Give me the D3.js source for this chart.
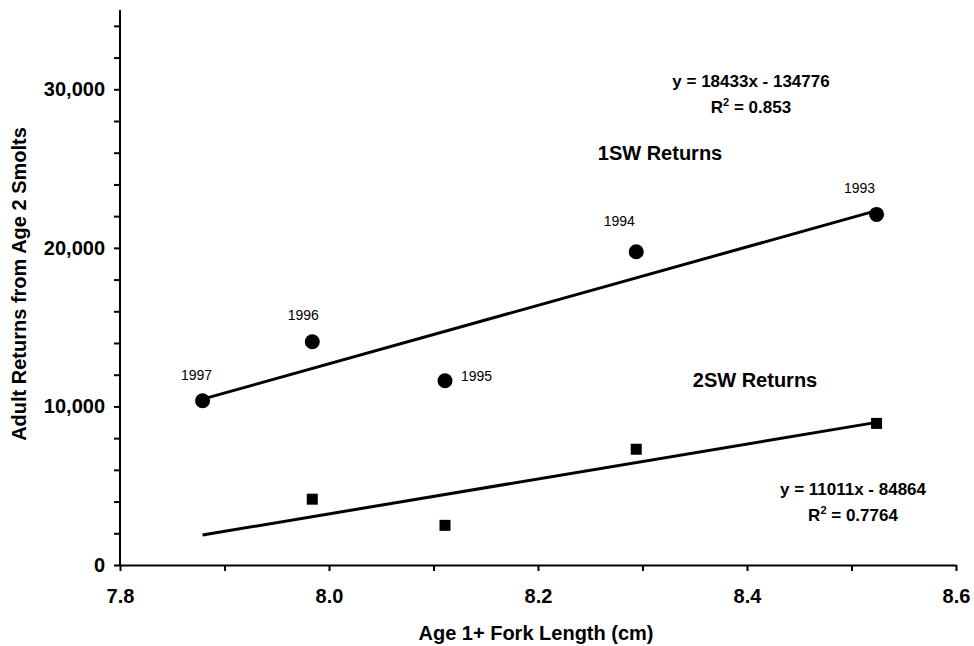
<!DOCTYPE html>
<html>
<head>
<meta charset="utf-8">
<script src="https://cdn.jsdelivr.net/npm/d3@7/dist/d3.min.js"></script>
<style>
  html, body { margin: 0; padding: 0; background: #fff; }
  svg { display: block; font-family: "Liberation Sans", Arial, sans-serif; }
</style>
</head>
<body>
<svg id="chart" width="974" height="646"></svg>
<script>
// Smolt year, mean age 1+ fork length and adult returns per year
const years = [1993, 1994, 1995, 1996, 1997];
const forkLength = [8.524, 8.294, 8.111, 7.984, 7.879];
const returns1SW = [22110, 19750, 11620, 14080, 10360];
const returns2SW = [8930, 7300, 2500, 4150, null];

// Fitted linear trends (slope, intercept, R²)
const fit1SW = [18433, -134776, "0.853"];
const fit2SW = [11011, -84864, "0.7764"];

// Axis ticks
const xTicks = [7.8, 7.9, 8.0, 8.1, 8.2, 8.3, 8.4, 8.5, 8.6];
const xTickLabels = ["7.8", "", "8.0", "", "8.2", "", "8.4", "", "8.6"];
const yTicks = [0, 2000, 4000, 6000, 8000, 10000, 12000, 14000, 16000, 18000,
                20000, 22000, 24000, 26000, 28000, 30000, 32000, 34000];
const yTickLabels = ["0", "", "", "", "", "10,000", "", "", "", "",
                     "20,000", "", "", "", "", "30,000", "", ""];

const xTitle = "Age 1+ Fork Length (cm)";
const yTitle = "Adult Returns from Age 2 Smolts";

const svg = d3.select("#chart");
const plotLeft = 120, plotRight = 956, plotTop = 10, plotBottom = 565;

const x = d3.scaleLinear().domain([7.8, 8.6]).range([plotLeft, plotRight]);
const y = d3.scaleLinear().domain([0, 35000]).range([plotBottom, plotTop]);

// X axis
const xAxis = svg.append("g")
  .attr("transform", `translate(0,${plotBottom})`)
  .call(d3.axisBottom(x)
    .tickValues(xTicks)
    .tickFormat((d, i) => xTickLabels[i])
    .tickSize(6).tickSizeOuter(0).tickPadding(18));
xAxis.select(".domain").attr("stroke", "#000").attr("stroke-width", 2);
xAxis.selectAll(".tick line").attr("stroke", "#000").attr("stroke-width", 2);
xAxis.selectAll(".tick text")
  .attr("font-size", 20).attr("font-weight", "bold").attr("fill", "#000")
  .attr("font-family", "'Liberation Sans', Arial, sans-serif");

// Y axis
const yAxis = svg.append("g")
  .attr("transform", `translate(${plotLeft},0)`)
  .call(d3.axisLeft(y)
    .tickValues(yTicks)
    .tickFormat((d, i) => yTickLabels[i])
    .tickSize(6).tickSizeOuter(0).tickPadding(9));
yAxis.select(".domain").attr("stroke", "#000").attr("stroke-width", 2)
  .attr("d", `M0,${plotBottom}V${plotTop}`);
yAxis.selectAll(".tick line").attr("stroke", "#000").attr("stroke-width", 2);
yAxis.selectAll(".tick text")
  .attr("font-size", 20).attr("font-weight", "bold").attr("fill", "#000")
  .attr("font-family", "'Liberation Sans', Arial, sans-serif");

// Axis titles
svg.append("text")
  .attr("x", 536).attr("y", 640)
  .attr("text-anchor", "middle")
  .attr("font-size", 20).attr("font-weight", "bold")
  .text(xTitle);

svg.append("text")
  .attr("transform", "translate(26,284) rotate(-90)")
  .attr("text-anchor", "middle")
  .attr("font-size", 20).attr("font-weight", "bold")
  .text(yTitle);

// Trend lines across the observed fork length range
const xExtent = d3.extent(forkLength);
const line = d3.line().x(d => x(d[0])).y(d => y(d[1]));
[fit1SW, fit2SW].forEach(f => {
  const pts = xExtent.map(v => [v, f[0] * v + f[1]]);
  svg.append("path")
    .attr("d", line(pts))
    .attr("fill", "none")
    .attr("stroke", "#000")
    .attr("stroke-width", 3);
});

// 1SW returns: circles
const pts1 = years.map((yr, i) => ({ yr, fl: forkLength[i], v: returns1SW[i] }));
svg.append("g").selectAll("circle")
  .data(pts1).join("circle")
  .attr("cx", d => x(d.fl))
  .attr("cy", d => y(d.v))
  .attr("r", 7.5)
  .attr("fill", "#000");

// 2SW returns: squares
const pts2 = years.map((yr, i) => ({ yr, fl: forkLength[i], v: returns2SW[i] }))
  .filter(d => d.v !== null);
const sq = 11;
svg.append("g").selectAll("rect")
  .data(pts2).join("rect")
  .attr("x", d => x(d.fl) - sq / 2)
  .attr("y", d => y(d.v) - sq / 2)
  .attr("width", sq).attr("height", sq)
  .attr("fill", "#000");

// Year labels beside the 1SW points
const yearLabelPlacement = {
  1993: { dx: -17, dy: -21, anchor: "middle" },
  1994: { dx: -17, dy: -26, anchor: "middle" },
  1995: { dx: 16, dy: 0, anchor: "start" },
  1996: { dx: -9, dy: -22, anchor: "middle" },
  1997: { dx: -6, dy: -21, anchor: "middle" }
};
svg.append("g").selectAll("text")
  .data(pts1).join("text")
  .attr("x", d => x(d.fl) + yearLabelPlacement[d.yr].dx)
  .attr("y", d => y(d.v) + yearLabelPlacement[d.yr].dy)
  .attr("text-anchor", d => yearLabelPlacement[d.yr].anchor)
  .attr("font-size", 14)
  .attr("fill", "#000")
  .text(d => d.yr);

// Series names
svg.append("text").attr("x", 660).attr("y", 160)
  .attr("text-anchor", "middle").attr("font-size", 20).attr("font-weight", "bold")
  .text("1SW Returns");
svg.append("text").attr("x", 755).attr("y", 387)
  .attr("text-anchor", "middle").attr("font-size", 20).attr("font-weight", "bold")
  .text("2SW Returns");

// Regression equations
function equation(f, cx, by) {
  const sign = f[1] < 0 ? " - " : " + ";
  svg.append("text").attr("x", cx).attr("y", by)
    .attr("text-anchor", "middle").attr("font-size", 17).attr("font-weight", "bold")
    .text(`y = ${f[0]}x${sign}${Math.abs(f[1])}`);
  const r = svg.append("text").attr("x", cx).attr("y", by + 26)
    .attr("text-anchor", "middle").attr("font-size", 17).attr("font-weight", "bold");
  r.append("tspan").text("R");
  r.append("tspan").attr("font-size", 11).attr("dy", -7).text("2");
  r.append("tspan").attr("dy", 7).text(` = ${f[2]}`);
}
equation(fit1SW, 751, 87);
equation(fit2SW, 853, 495);
</script>
</body>
</html>
